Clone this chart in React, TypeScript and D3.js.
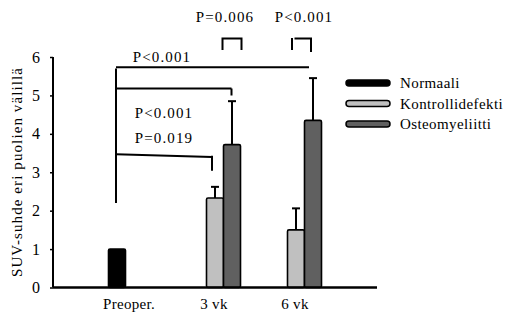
import React, { useEffect, useRef } from "react";
import * as d3 from "d3";

const categories = ["Preoper.", "3 vk", "6 vk"];
const seriesNames = ["Normaali", "Kontrollidefekti", "Osteomyeliitti"];
const colors = ["#000000", "#c0c0c0", "#606060"];
// value per category per series (null = not shown)
const means = [
  [1.0, null, null],
  [null, 2.33, 3.72],
  [null, 1.5, 4.35],
];
const errTop = [
  [null, null, null],
  [null, 2.62, 4.85],
  [null, 2.06, 5.45],
];
const yTicks = [0, 1, 2, 3, 4, 5, 6];

export default function App() {
  const ref = useRef<SVGSVGElement>(null);

  useEffect(() => {
    const svg = d3.select(ref.current);
    svg.selectAll("*").remove();
    const font = "Liberation Serif, Times New Roman, DejaVu Serif, serif";

    const x0 = d3.scaleLinear().domain([0, 4]).range([53, 377]);
    const x1 = d3.scaleBand<number>().domain([0, 1, 2]).range([-25.5, 25.5]);
    const y = d3.scaleLinear().domain([0, 6]).range([287.5, 57]);

    // bars
    means.forEach((row, ci) => {
      row.forEach((v, si) => {
        if (v === null) return;
        const bx = x0(ci + 1) + (x1(si) as number);
        svg
          .append("rect")
          .attr("x", bx)
          .attr("y", y(v))
          .attr("width", x1.bandwidth())
          .attr("height", y(0) - y(v))
          .attr("rx", 1.5)
          .attr("fill", colors[si])
          .attr("stroke", "#000")
          .attr("stroke-width", 1.6);
        const e = errTop[ci][si];
        if (e !== null) {
          const cx = bx + x1.bandwidth() / 2;
          svg
            .append("line")
            .attr("x1", cx)
            .attr("x2", cx)
            .attr("y1", y(v))
            .attr("y2", y(e))
            .attr("stroke", "#000")
            .attr("stroke-width", 2);
          svg
            .append("line")
            .attr("x1", cx - 4)
            .attr("x2", cx + 4)
            .attr("y1", y(e))
            .attr("y2", y(e))
            .attr("stroke", "#000")
            .attr("stroke-width", 2);
        }
      });
    });

    // axes
    const yAxis = svg
      .append("g")
      .attr("transform", `translate(${x0(0)},0)`)
      .call(
        d3
          .axisLeft(y)
          .tickValues(yTicks)
          .tickFormat(d3.format("d"))
          .tickSize(3)
          .tickPadding(10)
      );
    yAxis.attr("font-family", null).attr("font-size", null);
    yAxis.select(".domain").attr("stroke-width", 2).attr("d", `M-0,${y(6)}V${y(0)}`);
    yAxis.selectAll(".tick line").attr("stroke-width", 1.5);
    yAxis
      .selectAll("text")
      .style("font-family", font)
      .style("font-size", "16px")
      .attr("fill", "#000");

    svg
      .append("line")
      .attr("x1", x0(0))
      .attr("x2", x0(4))
      .attr("y1", y(0))
      .attr("y2", y(0))
      .attr("stroke", "#000")
      .attr("stroke-width", 2.5);

    const label = (t: string, x: number, yy: number, anchor = "middle", ls = 0.8) =>
      svg
        .append("text")
        .attr("x", x)
        .attr("y", yy)
        .attr("text-anchor", anchor)
        .style("font-family", font)
        .style("font-size", "15px")
        .style("letter-spacing", `${ls}px`)
        .text(t);

    categories.forEach((c, i) => {
      label(c, x0(i + 1) - (i === 0 ? 5 : 1), 309, "middle", 0.3);
    });

    label("SUV-suhde eri puolien välillä", 0, 0, "middle", 1.1).attr(
      "transform",
      `translate(22,172) rotate(-90)`
    );

    // significance lines
    const sx = 116;
    const path = (d: string) =>
      svg
        .append("path")
        .attr("d", d)
        .attr("fill", "none")
        .attr("stroke", "#000")
        .attr("stroke-width", 2);
    path(`M${sx},${y(2.2)}V${y(5.7)}`);
    path(`M${sx},${y(5.73)}H309`);
    path(`M${sx},${y(5.18)}H231.5M231.5,${y(5.18)}V${y(5.0)}`);
    path(`M${sx},${y(3.47)}L212,${y(3.4)}M212,${y(3.43)}V${y(3.04)}`);

    // top brackets
    path(`M222.5,50V38.5H241.5V50`);
    path(`M292,38V50`);
    path(`M294.5,38.5H311V52`);

    const texts = [
      { t: "P<0.001", x: 162, y: 62 },
      { t: "P<0.001", x: 164, y: 118 },
      { t: "P=0.019", x: 164, y: 143 },
      { t: "P=0.006", x: 225, y: 22 },
      { t: "P<0.001", x: 304, y: 22 },
    ];
    texts.forEach((d) => label(d.t, d.x, d.y, "middle", 1.1));

    // legend
    const legendY = d3.scalePoint<string>().domain(seriesNames).range([83, 124]);
    seriesNames.forEach((s, i) => {
      const ly = legendY(s) as number;
      svg
        .append("rect")
        .attr("x", 346)
        .attr("y", ly - 3)
        .attr("width", 44)
        .attr("height", 6)
        .attr("rx", 3)
        .attr("fill", colors[i])
        .attr("stroke", "#000")
        .attr("stroke-width", 1.5);
      label(s, 400, ly + 5, "start", 0.4);
    });
  }, []);

  return (
    <svg
      ref={ref}
      width={518}
      height={320}
      style={{ position: "absolute", left: 0, top: 0, background: "#fff" }}
    />
  );
}
